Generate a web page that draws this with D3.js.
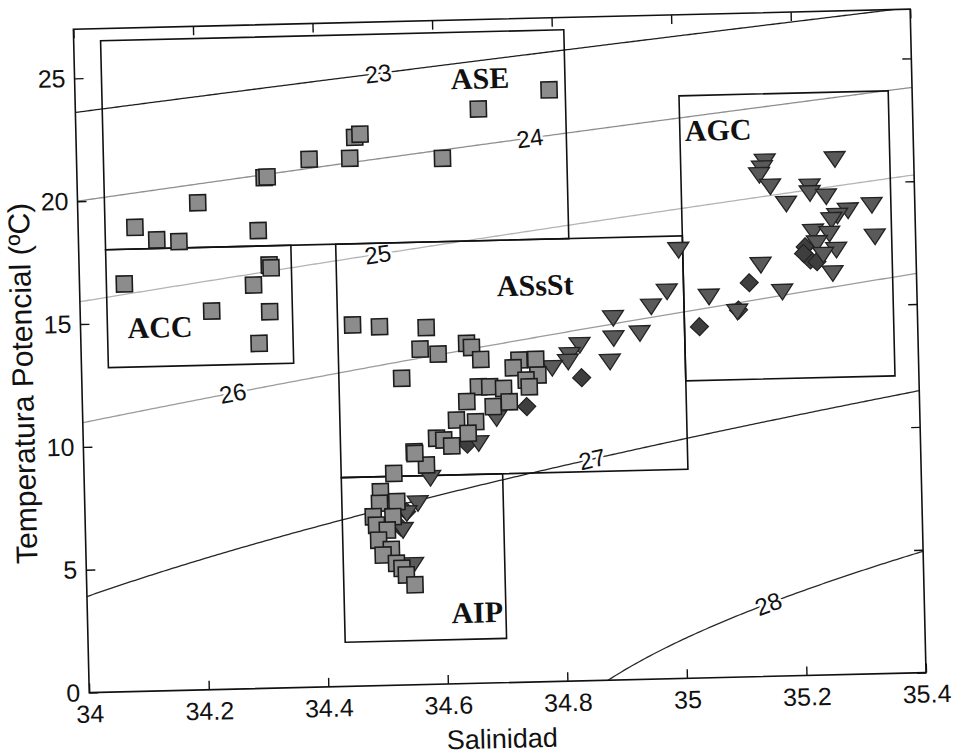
<!DOCTYPE html>
<html>
<head>
<meta charset="utf-8">
<script src="https://cdn.jsdelivr.net/npm/d3@7"></script>
<style>
  html, body { margin: 0; padding: 0; background: #fff; }
  svg { display: block; }
</style>
</head>
<body>
<svg id="chart" width="953" height="754"></svg>
<script>
// ---- axes ----
const salinityTicks = [34, 34.2, 34.4, 34.6, 34.8, 35, 35.2, 35.4];
const temperatureTicks = [0, 5, 10, 15, 20, 25];
const salinityDomain = [34, 35.4];
const temperatureDomain = [0, 27];

// ---- isopycnals (sigma-theta) and where their labels sit (salinity) ----
const sigmaLevels = [23, 24, 25, 26, 27, 28];
const sigmaLabelSalinity = [34.508, 34.759, 34.500, 34.252, 34.850, 35.139];

// ---- water mass boxes ----
const massNames = ["ASE", "ACC", "ASsSt", "AIP", "AGC"];
const massSmin = [34.045, 34.045, 34.43, 34.43, 35.01];
const massSmax = [34.82, 34.355, 35.01, 34.70, 35.36];
const massTmin = [18.0, 13.2, 8.5, 1.8, 12.1];
const massTmax = [26.5, 18.0, 18.0, 8.5, 23.7];
const massLabelS = [34.678, 34.133, 34.762, 34.652, 35.074];
const massLabelT = [24.62, 14.8, 16.15, 2.9, 22.28];

// ---- observations: squares ----
const squareS = [
  34.793, 34.674, 34.466, 34.475, 34.457, 34.389, 34.612, 34.313, 34.318, 34.201, 34.095, 34.131, 34.168, 34.301,
  34.075, 34.318, 34.321, 34.291, 34.220, 34.317, 34.298,
  34.455, 34.500, 34.578, 34.567, 34.597, 34.645, 34.653, 34.668, 34.535, 34.732, 34.760, 34.722, 34.763, 34.743,
  34.748, 34.663, 34.682, 34.705, 34.643, 34.687, 34.714, 34.625, 34.657, 34.644, 34.591, 34.603, 34.616, 34.553,
  34.573, 34.518, 34.554,
  34.495, 34.493, 34.522, 34.515, 34.482, 34.487, 34.505, 34.490, 34.511, 34.497, 34.519, 34.528, 34.535, 34.549
];
const squareT = [
  24.07, 23.36, 22.33, 22.45, 21.48, 21.48, 21.39, 20.78, 20.80, 19.82, 18.88, 18.35, 18.26, 18.63,
  16.59, 17.22, 17.10, 16.42, 15.40, 15.32, 14.04,
  14.70, 14.60, 14.52, 13.65, 13.43, 13.84, 13.67, 13.17, 12.48, 13.11, 13.12, 12.80, 12.48, 12.29,
  12.01, 12.06, 12.05, 11.97, 11.47, 11.24, 11.42, 10.73, 10.64, 10.18, 10.01, 9.93, 9.68, 9.48,
  8.93, 8.62, 9.41,
  7.89, 7.42, 7.47, 6.86, 6.88, 6.53, 6.32, 5.92, 5.53, 5.31, 4.96, 4.75, 4.48, 4.07
];

// ---- observations: downward triangles ----
const triangleS = [
  35.003, 34.982, 34.955, 34.935, 34.891, 34.891, 34.884, 34.834, 34.817, 34.814, 34.787, 34.692, 34.661,
  34.579, 34.557, 34.538, 34.531, 34.547,
  35.151, 35.146, 35.141, 35.159, 35.268, 35.225, 35.225, 35.252, 35.185, 35.328, 35.288, 35.270, 35.260,
  35.229, 35.256, 35.332, 35.235, 35.267, 35.245, 35.260, 35.140, 35.175, 35.052, 35.099
];
const triangleT = [
  17.43, 15.75, 15.15, 14.08, 14.72, 13.90, 12.95, 13.66, 13.26, 12.99, 12.75, 10.76, 9.76,
  8.39, 7.38, 6.98, 6.30, 4.87,
  20.94, 20.67, 20.40, 19.92, 20.97, 19.88, 19.61, 19.46, 19.20, 19.07, 18.87, 18.66, 18.50,
  18.04, 17.94, 17.78, 17.57, 17.28, 17.09, 16.33, 16.74, 15.63, 15.50, 14.86
];

// ---- observations: diamonds ----
const diamondS = [35.120, 35.035, 35.101, 35.215, 35.223, 35.234, 35.212, 34.836, 34.743, 34.642, 34.538, 34.527];
const diamondT = [16.03, 14.29, 14.93, 17.44, 16.90, 16.82, 17.17, 12.33, 11.21, 9.74, 7.05, 6.44];

// ---- layout ----
const W = 953, H = 754;
const plot = { left: 81.2, right: 918.2, top: 19.1, bottom: 682.7 };
const tilt = -1.37;                       // the whole sheet sits slightly askew
const pivot = [499.7, 350.9];

const isoStroke = { 23: "#1e1e1e", 24: "#8f8f8f", 25: "#b4b4b4", 26: "#9c9c9c", 27: "#262626", 28: "#2a2a2a" };
const tickFont = "'Liberation Sans', Arial, sans-serif";
const serifFont = "'Liberation Serif', 'Times New Roman', serif";

// UNESCO 1983 (EOS-80) density at surface pressure, kg/m3
function rhoSW(S, T) {
  const rw = 999.842594 + 6.793952e-2 * T - 9.095290e-3 * T * T + 1.001685e-4 * T ** 3
           - 1.120083e-6 * T ** 4 + 6.536332e-9 * T ** 5;
  const A = 0.824493 - 4.0899e-3 * T + 7.6438e-5 * T * T - 8.2467e-7 * T ** 3 + 5.3875e-9 * T ** 4;
  const B = -5.72466e-3 + 1.0227e-4 * T - 1.6546e-6 * T * T;
  const C = 4.8314e-4;
  return rw + A * S + B * Math.pow(S, 1.5) + C * S * S;
}
// temperature on a given sigma-theta surface for salinity S (bisection)
function tempOnSigma(S, sig) {
  let lo = -3, hi = 40;
  for (let i = 0; i < 60; i++) {
    const mid = (lo + hi) / 2;
    if (rhoSW(S, mid) - 1000 > sig) lo = mid; else hi = mid;
  }
  return (lo + hi) / 2;
}

const x = d3.scaleLinear().domain(salinityDomain).range([plot.left, plot.right]);
const y = d3.scaleLinear().domain(temperatureDomain).range([plot.bottom, plot.top]);

const svg = d3.select("#chart");
svg.append("rect").attr("width", W).attr("height", H).attr("fill", "#fff");

const defs = svg.append("defs");
defs.append("clipPath").attr("id", "plotClip")
  .append("rect")
  .attr("x", plot.left).attr("y", plot.top)
  .attr("width", plot.right - plot.left).attr("height", plot.bottom - plot.top);

const g = svg.append("g").attr("transform", `rotate(${tilt},${pivot[0]},${pivot[1]})`);

// ---- isopycnal curves ----
const sGrid = d3.range(33.9, 35.5001, 0.005);
const isoLayer = g.append("g").attr("clip-path", "url(#plotClip)");
const line = d3.line().x(d => x(d[0])).y(d => y(d[1]));
sigmaLevels.forEach(lev => {
  const pts = sGrid.map(s => [s, tempOnSigma(s, lev)]).filter(p => p[1] > -1.5);
  isoLayer.append("path")
    .attr("d", line(pts))
    .attr("fill", "none")
    .attr("stroke", isoStroke[lev])
    .attr("stroke-width", 1.3);
});

// isopycnal labels, laid along the curve with a white gap behind them
sigmaLevels.forEach((lev, i) => {
  const s0 = sigmaLabelSalinity[i];
  const t0 = tempOnSigma(s0, lev);
  const s1 = s0 - 0.01, s2 = s0 + 0.01;
  const ang = Math.atan2(y(tempOnSigma(s2, lev)) - y(tempOnSigma(s1, lev)), x(s2) - x(s1)) * 180 / Math.PI;
  g.append("text")
    .attr("transform", `translate(${x(s0)},${y(t0)}) rotate(${ang})`)
    .attr("text-anchor", "middle")
    .attr("dy", "0.36em")
    .attr("font-family", tickFont)
    .attr("font-size", 24)
    .attr("fill", "#111")
    .attr("stroke", "#fff")
    .attr("stroke-width", 5)
    .attr("paint-order", "stroke")
    .text(lev);
});

// ---- water mass boxes ----
massNames.forEach((name, i) => {
  g.append("rect")
    .attr("x", x(massSmin[i]))
    .attr("y", y(massTmax[i]))
    .attr("width", x(massSmax[i]) - x(massSmin[i]))
    .attr("height", y(massTmin[i]) - y(massTmax[i]))
    .attr("fill", "none")
    .attr("stroke", "#111")
    .attr("stroke-width", 1.6);
});

// ---- observations ----
const pts = g.append("g");
const diamondPath = "M0,-9L9,0L0,9L-9,0Z";
const trianglePath = "M-10.5,-7.5L10.5,-7.5L0,8Z";
pts.selectAll("path.dia").data(d3.range(diamondS.length)).join("path")
  .attr("class", "dia")
  .attr("d", diamondPath)
  .attr("transform", i => `translate(${x(diamondS[i])},${y(diamondT[i])})`)
  .attr("fill", "#3e3e3e")
  .attr("stroke", "#222")
  .attr("stroke-width", 1.2);
pts.selectAll("path.tri").data(d3.range(triangleS.length)).join("path")
  .attr("class", "tri")
  .attr("d", trianglePath)
  .attr("transform", i => `translate(${x(triangleS[i])},${y(triangleT[i])})`)
  .attr("fill", "#5a5a5a")
  .attr("stroke", "#222")
  .attr("stroke-width", 1.3);
pts.selectAll("path.sq").data(d3.range(squareS.length)).join("path")
  .attr("class", "sq")
  .attr("d", d3.symbol(d3.symbolSquare, 256)())
  .attr("transform", i => `translate(${x(squareS[i])},${y(squareT[i])})`)
  .attr("fill", "#8c8c8c")
  .attr("stroke", "#1c1c1c")
  .attr("stroke-width", 1.6);

// ---- water mass names ----
massNames.forEach((name, i) => {
  g.append("text")
    .attr("x", x(massLabelS[i]))
    .attr("y", y(massLabelT[i]))
    .attr("dy", "0.35em")
    .attr("text-anchor", "middle")
    .attr("font-family", serifFont)
    .attr("font-weight", "bold")
    .attr("font-size", 30)
    .attr("fill", "#111")
    .text(name);
});

// ---- axes (ticks inward on all four sides) ----
const fmtS = d => String(+d.toFixed(1));
const axB = g.append("g").attr("transform", `translate(0,${plot.bottom})`)
  .call(d3.axisBottom(x).tickValues(salinityTicks).tickSizeInner(-9).tickSizeOuter(0).tickPadding(12).tickFormat(fmtS));
const axT = g.append("g").attr("transform", `translate(0,${plot.top})`)
  .call(d3.axisTop(x).tickValues(salinityTicks).tickSizeInner(-9).tickSizeOuter(0).tickFormat(""));
const axL = g.append("g").attr("transform", `translate(${plot.left},0)`)
  .call(d3.axisLeft(y).tickValues(temperatureTicks).tickSizeInner(-9).tickSizeOuter(0).tickPadding(9).tickFormat(d3.format("d")));
const axR = g.append("g").attr("transform", `translate(${plot.right},0)`)
  .call(d3.axisRight(y).tickValues(temperatureTicks).tickSizeInner(-9).tickSizeOuter(0).tickFormat(""));
[axB, axT, axL, axR].forEach(a => {
  a.select(".domain").remove();
  a.selectAll(".tick line").attr("stroke", "#111").attr("stroke-width", 1.4);
  a.selectAll("text").attr("font-family", tickFont).attr("font-size", 25).attr("fill", "#111");
});
axB.selectAll("text").attr("dy", "0.72em");

g.append("rect")
  .attr("x", plot.left).attr("y", plot.top)
  .attr("width", plot.right - plot.left).attr("height", plot.bottom - plot.top)
  .attr("fill", "none").attr("stroke", "#111").attr("stroke-width", 1.6);

// ---- axis titles ----
g.append("text")
  .attr("x", 493).attr("y", 748)
  .attr("text-anchor", "middle")
  .attr("font-family", tickFont).attr("font-size", 27).attr("fill", "#111")
  .text("Salinidad");
g.append("text")
  .attr("transform", "translate(22,372) rotate(-90)")
  .attr("text-anchor", "middle")
  .attr("dy", "0.35em")
  .attr("font-family", tickFont).attr("font-size", 30).attr("fill", "#111")
  .text("Temperatura Potencial (ºC)");
</script>
</body>
</html>
